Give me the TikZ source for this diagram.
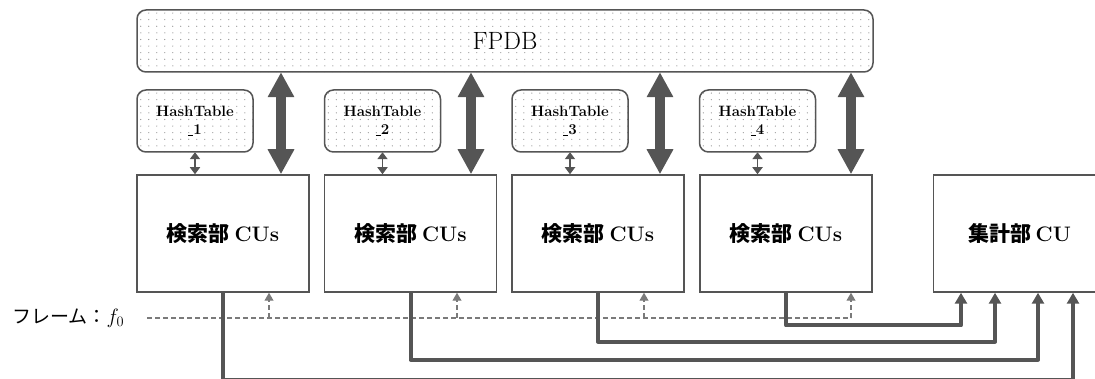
\documentclass[tikz,border=0pt]{standalone}
\usepackage{fontspec}
\newfontfamily\jp{Noto Sans CJK JP}
\usetikzlibrary{arrows.meta}

\definecolor{edge}{HTML}{555555}
\definecolor{frameline}{HTML}{7A7A7A}
\definecolor{dotc}{HTML}{8C8C8C}

\newcommand{\lowbar}{\rule[-1.6pt]{5pt}{0.9pt}}

% sparse dot texture, clipped to a rounded block of the given width
\newcommand{\stippleblock}[2]{%
  \begin{scope}
    \clip[rounded corners=9pt] (#1.south west) rectangle (#1.north east);
    \path (#1.north west) coordinate (dnw);
    \foreach \dx in {0,8,...,#2} \foreach \dy in {0,6.6,...,64}
      \fill[dotc] ([shift={(\dx+4,\dy+3.3)}]dnw) circle (0.6pt);
  \end{scope}}

\tikzset{
  unit/.style={draw=edge, line width=1.5pt, fill=white, inner sep=0pt,
    minimum width=172pt, minimum height=117pt,
    font=\fontsize{21}{24}\selectfont\bfseries},
  store/.style={draw=edge, line width=1.5pt, rounded corners=9pt,
    inner sep=0pt, align=center},
  bus/.style={draw=edge, line width=10pt,
    {Triangle[width=25pt,length=25pt]}-{Triangle[width=25pt,length=25pt]}},
  link/.style={draw=edge, line width=1.8pt,
    {Triangle[width=10pt,length=7pt]}-{Triangle[width=10pt,length=7pt]}},
  feed/.style={draw=edge, line width=4pt, line join=round,
    -{Triangle[width=12pt,length=11pt]}},
  frame/.style={draw=frameline, line width=1.1pt, dash pattern=on 5pt off 3pt},
  probe/.style={frame, -{Triangle[width=9pt,length=8pt]}},
}

\begin{document}
\begin{tikzpicture}[x=1pt,y=-1pt]
\useasboundingbox (0,0) rectangle (1095,379);
\clip (0,0) rectangle (1095,379);

% shared fingerprint database
\path node[minimum width=736pt, minimum height=62pt, inner sep=0pt]
  (fpdb) at (505,41) {};
\stippleblock{fpdb}{736}
\node[store, minimum width=736pt, minimum height=62pt,
  font=\fontsize{25}{30}\selectfont] at (fpdb.center) {FPDB};

% per-unit hash tables
\foreach \i/\x in {1/195,2/382.5,3/570,4/757.5}{
  \path node[minimum width=116pt, minimum height=62pt, inner sep=0pt]
    (ht\i) at (\x,121) {};
  \stippleblock{ht\i}{112}
  \node[store, minimum width=116pt, minimum height=62pt,
    font=\fontsize{15}{18}\selectfont\bfseries] at (ht\i.center)
    {HashTable\\\lowbar\i};
}

% search units and the aggregation unit
\foreach \i/\x in {1/223,2/410.5,3/598,4/786}
  \node[unit] (cu\i) at (\x,233.5) {{\jp 検索部}\hspace{0.22em}CUs};
\node[unit] (agg) at (1019.5,233.5) {{\jp 集計部}\hspace{0.22em}CU};

% database buses
\foreach \i/\x in {1/281,2/471,3/660,4/851}{
  \coordinate (b\i) at (\x,0);
  \draw[bus] (b\i |- fpdb.south) -- (b\i |- cu\i.north);
}

% hash table links
\foreach \i in {1,...,4}
  \draw[link] (ht\i.south) -- (ht\i.south |- cu\i.north);

% frame input
\node[anchor=west, inner sep=0pt, font=\fontsize{19}{22}\selectfont]
  (flabel) at (12,318) {\jp フレーム：{\fontsize{22}{24}\selectfont$f_0$}};
\coordinate (fs) at (147,318);
\coordinate (fe) at (851,318);
\draw[frame] (fs) -- (fe);
\foreach \i/\x in {1/269,2/457,3/644,4/851}{
  \coordinate (p\i) at (\x,318);
  \draw[probe] (p\i) -- (p\i |- cu\i.south);
}

% results to the aggregation unit
\coordinate (l1) at (1073,380);
\coordinate (l2) at (1038,359.5);
\coordinate (l3) at (995,341.5);
\coordinate (l4) at (961,325.5);
\foreach \i in {1,...,4}
  \draw[feed] (cu\i.south) |- (l\i) -- (l\i |- agg.south);
\end{tikzpicture}
\end{document}
